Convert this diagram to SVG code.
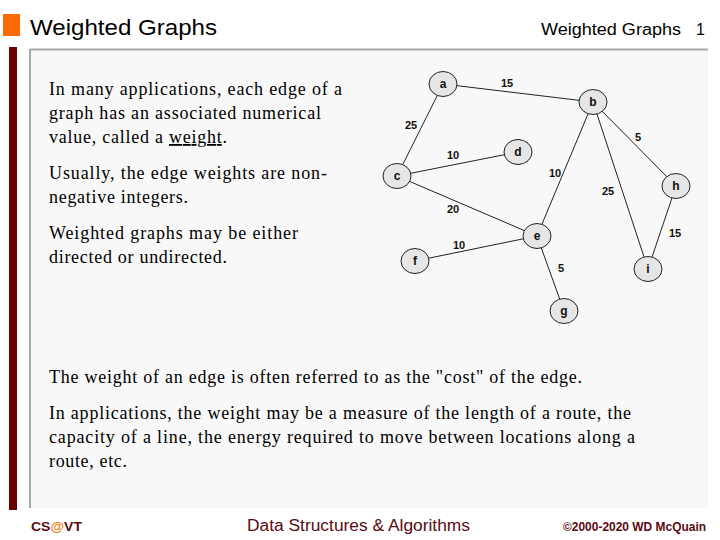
<svg xmlns="http://www.w3.org/2000/svg" width="720" height="540" viewBox="0 0 720 540">
<style>
.node ellipse{fill:#e6e6e6;stroke:#222;stroke-width:1}
.node text{font-family:"Liberation Sans",Arial,sans-serif;font-weight:bold;font-size:12px;fill:#111;text-anchor:middle}
.edges line{stroke:#222;stroke-width:1}
.w{font-family:"Liberation Sans",Arial,sans-serif;font-weight:bold;font-size:11px;fill:#111;text-anchor:middle}
.body{font-family:"Liberation Serif","Times New Roman",serif;font-size:18px;fill:#000}
.foot{font-family:"Liberation Sans",Arial,sans-serif;fill:#5a0a12}
.hdr{font-family:"Liberation Sans",Arial,sans-serif;fill:#000}
</style>
<rect x="0" y="0" width="720" height="540" fill="#fff"/>
<rect x="3" y="14" width="17" height="22" fill="#ff6a00"/>
<text class="hdr" x="30" y="35" font-size="22" textLength="187" lengthAdjust="spacingAndGlyphs">Weighted Graphs</text>
<text class="hdr" x="541" y="35" font-size="16" textLength="140" lengthAdjust="spacingAndGlyphs">Weighted Graphs</text>
<text class="hdr" x="696" y="35" font-size="16">1</text>
<rect x="9" y="47" width="8" height="463" fill="#6b0000"/>
<rect x="30" y="49" width="678" height="459" fill="#f8f8f8"/>
<line x1="30" y1="49.5" x2="708" y2="49.5" stroke="#a8a8a8" stroke-width="2"/>
<line x1="30" y1="49" x2="30" y2="508" stroke="#a8a8a8" stroke-width="2"/>

<g class="body">
<text x="49" y="95" textLength="293" lengthAdjust="spacing">In many applications, each edge of a</text>
<text x="49" y="119" textLength="272" lengthAdjust="spacing">graph has an associated numerical</text>
<text x="49" y="143" textLength="178" lengthAdjust="spacing">value, called a <tspan text-decoration="underline">weight</tspan>.</text>
<text x="49" y="179" textLength="278" lengthAdjust="spacing">Usually, the edge weights are non-</text>
<text x="49" y="203" textLength="139" lengthAdjust="spacing">negative integers.</text>
<text x="49" y="239" textLength="249" lengthAdjust="spacing">Weighted graphs may be either</text>
<text x="49" y="263" textLength="178" lengthAdjust="spacing">directed or undirected.</text>
<text x="49" y="383" textLength="533" lengthAdjust="spacing">The weight of an edge is often referred to as the "cost" of the edge.</text>
<text x="49" y="419" textLength="582" lengthAdjust="spacing">In applications, the weight may be a measure of the length of a route, the</text>
<text x="49" y="443" textLength="586" lengthAdjust="spacing">capacity of a line, the energy required to move between locations along a</text>
<text x="49" y="467" textLength="78" lengthAdjust="spacing">route, etc.</text>
</g>

<g class="edges">
<line x1="443" y1="84" x2="593" y2="102"/>
<line x1="443" y1="84" x2="397" y2="176"/>
<line x1="397" y1="176" x2="518" y2="152"/>
<line x1="593" y1="102" x2="537" y2="236"/>
<line x1="593" y1="102" x2="648" y2="269"/>
<line x1="593" y1="102" x2="676" y2="186"/>
<line x1="397" y1="176" x2="537" y2="236"/>
<line x1="415" y1="261" x2="537" y2="236"/>
<line x1="537" y1="236" x2="564" y2="311"/>
<line x1="676" y1="186" x2="648" y2="269"/>
<text class="w" x="507" y="87">15</text>
<text class="w" x="411" y="129">25</text>
<text class="w" x="638" y="141">5</text>
<text class="w" x="453" y="159">10</text>
<text class="w" x="555" y="177">10</text>
<text class="w" x="608" y="195">25</text>
<text class="w" x="453" y="213">20</text>
<text class="w" x="459" y="249">10</text>
<text class="w" x="561" y="272">5</text>
<text class="w" x="675" y="237">15</text>
</g>

<g id="node-a" class="node"><ellipse cx="443" cy="84" rx="14" ry="12.5"/><text x="443" y="88">a</text></g>
<g id="node-b" class="node"><ellipse cx="593" cy="102" rx="14" ry="12.5"/><text x="593" y="106">b</text></g>
<g id="node-c" class="node"><ellipse cx="397" cy="176" rx="14" ry="12.5"/><text x="397" y="180">c</text></g>
<g id="node-d" class="node"><ellipse cx="518" cy="152" rx="14" ry="12.5"/><text x="518" y="156">d</text></g>
<g id="node-e" class="node"><ellipse cx="537" cy="236" rx="14" ry="12.5"/><text x="537" y="240">e</text></g>
<g id="node-f" class="node"><ellipse cx="415" cy="261" rx="14" ry="12.5"/><text x="415" y="265">f</text></g>
<g id="node-g" class="node"><ellipse cx="564" cy="311" rx="14" ry="12.5"/><text x="564" y="315">g</text></g>
<g id="node-h" class="node"><ellipse cx="676" cy="186" rx="14" ry="12.5"/><text x="676" y="190">h</text></g>
<g id="node-i" class="node"><ellipse cx="648" cy="269" rx="14" ry="12.5"/><text x="648" y="273">i</text></g>

<text class="foot" x="31" y="531" font-size="13" font-weight="bold" textLength="51" lengthAdjust="spacingAndGlyphs">CS<tspan fill="#f08010">@</tspan>VT</text>
<text class="foot" x="247" y="531" font-size="16" textLength="223" lengthAdjust="spacingAndGlyphs">Data Structures &amp; Algorithms</text>
<text class="foot" x="563" y="531" font-size="12" font-weight="bold" textLength="143" lengthAdjust="spacingAndGlyphs">©2000-2020 WD McQuain</text>
</svg>
